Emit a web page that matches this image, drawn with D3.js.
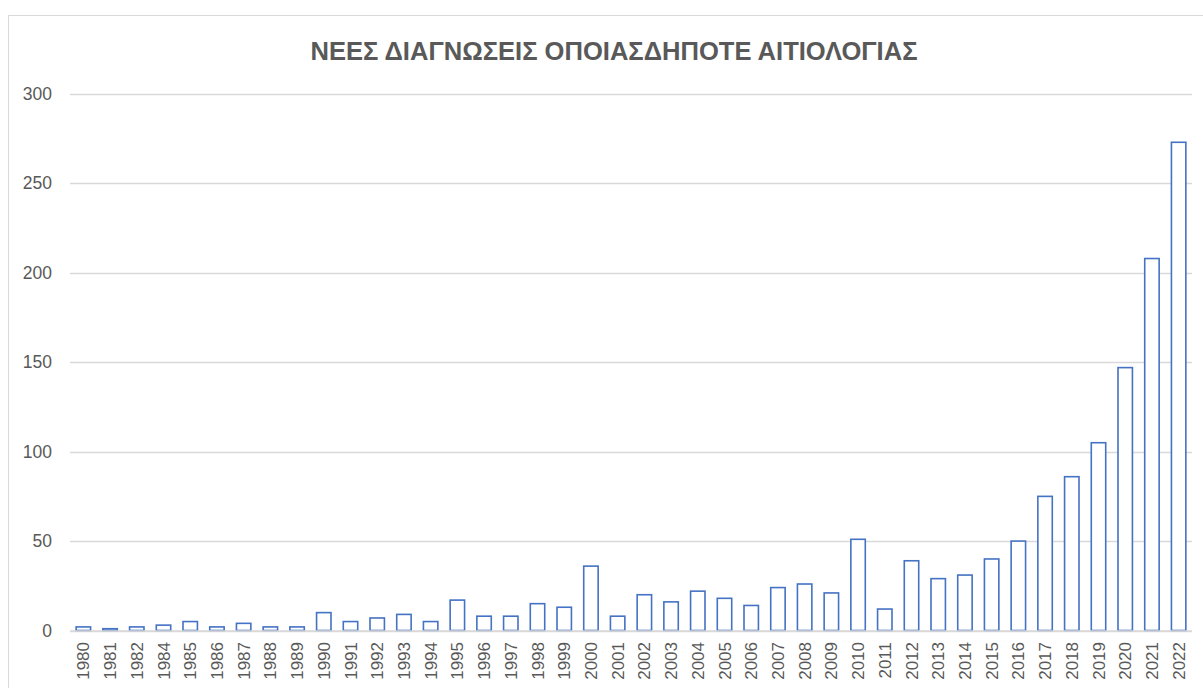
<!DOCTYPE html>
<html>
<head>
<meta charset="utf-8">
<script src="https://cdn.jsdelivr.net/npm/d3@7"></script>
<style>
  html, body { margin: 0; padding: 0; background: #fff; }
  svg { display: block; }
</style>
</head>
<body>
<svg id="chart" width="1203" height="688"></svg>
<script>
const title = "ΝΕΕΣ ΔΙΑΓΝΩΣΕΙΣ ΟΠΟΙΑΣΔΗΠΟΤΕ ΑΙΤΙΟΛΟΓΙΑΣ";
const years = ["1980","1981","1982","1984","1985","1986","1987","1988","1989","1990",
  "1991","1992","1993","1994","1995","1996","1997","1998","1999","2000",
  "2001","2002","2003","2004","2005","2006","2007","2008","2009","2010",
  "2011","2012","2013","2014","2015","2016","2017","2018","2019","2020",
  "2021","2022"];
const values = [2,1,2,3,5,2,4,2,2,10,
  5,7,9,5,17,8,8,15,13,36,
  8,20,16,22,18,14,24,26,21,51,
  12,39,29,31,40,50,75,86,105,147,
  208,273];
const yTicks = [0,50,100,150,200,250,300];

const svg = d3.select("#chart");
const textColor = "#595959";
const gridColor = "#d9d9d9";
const barColor = "#4472C4";
const font = "'Liberation Sans', Arial, sans-serif";

// chart frame
svg.append("rect")
  .attr("x", 8.5).attr("y", 15.5)
  .attr("width", 1210).attr("height", 700)
  .attr("fill", "#fff").attr("stroke", gridColor).attr("stroke-width", 1);

const x = d3.scaleBand().domain(years).range([70, 1192])
  .paddingInner(0.46).paddingOuter(0.23);
const y = d3.scaleLinear().domain([0, 300]).range([630.5, 94]);

// gridlines
svg.append("g").selectAll("line").data(yTicks).join("line")
  .attr("x1", 70).attr("x2", 1192)
  .attr("y1", d => Math.round(y(d)) + 0.5).attr("y2", d => Math.round(y(d)) + 0.5)
  .attr("stroke", gridColor).attr("stroke-width", 1.3);

// y labels
svg.append("g").selectAll("text").data(yTicks).join("text")
  .attr("x", 52).attr("y", d => y(d) + 6)
  .attr("text-anchor", "end")
  .attr("font-family", font).attr("font-size", 17.5)
  .attr("fill", textColor)
  .text(d => d);

// bars
svg.append("g").selectAll("rect").data(values).join("rect")
  .attr("x", (d, i) => x(years[i]))
  .attr("y", d => y(d))
  .attr("width", x.bandwidth())
  .attr("height", d => y(0) - y(d))
  .attr("fill", "#fff")
  .attr("stroke", barColor)
  .attr("stroke-width", 1.6);

// axis line
svg.append("line")
  .attr("x1", 70).attr("x2", 1192)
  .attr("y1", 631).attr("y2", 631)
  .attr("stroke", gridColor).attr("stroke-width", 1.5);

// x labels
svg.append("g").selectAll("text").data(years).join("text")
  .attr("transform", d => `translate(${x(d) + x.bandwidth() / 2 + 6},642) rotate(-90)`)
  .attr("text-anchor", "end")
  .attr("font-family", font).attr("font-size", 17)
  .attr("fill", textColor)
  .text(d => d);

// title
svg.append("text")
  .attr("x", 614).attr("y", 60)
  .attr("text-anchor", "middle")
  .attr("font-family", font).attr("font-size", 25.5).attr("font-weight", "bold")
  .attr("fill", textColor)
  .attr("textLength", 607).attr("lengthAdjust", "spacingAndGlyphs")
  .text(title);
</script>
</body>
</html>
